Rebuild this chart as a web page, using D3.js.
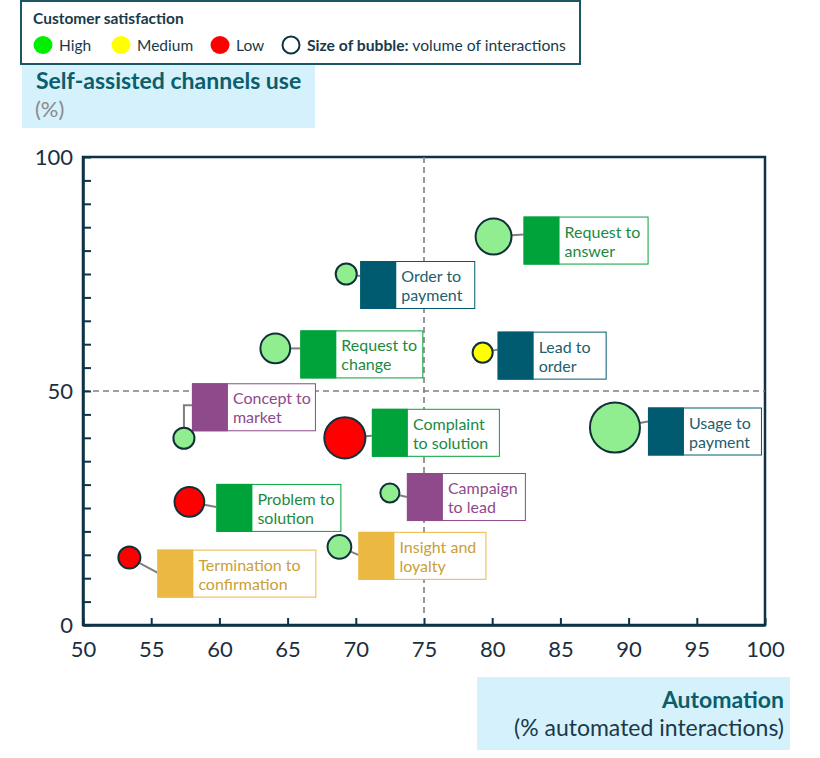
<!DOCTYPE html>
<html>
<head>
<meta charset="utf-8">
<script src="https://cdn.jsdelivr.net/npm/d3@7"></script>
<style>
  html, body { margin: 0; padding: 0; background: #ffffff; }
  svg { display: block; font-family: Lato, "Open Sans", sans-serif; }
</style>
</head>
<body>
<svg id="chart" width="820" height="758"></svg>
<script>
// ---------------- data ----------------
const processes = ["Request to answer", "Order to payment", "Request to change", "Lead to order",
  "Concept to market", "Complaint to solution", "Usage to payment", "Problem to solution",
  "Campaign to lead", "Insight and loyalty", "Termination to confirmation"];
const labelLines = [["Request to", "answer"], ["Order to", "payment"], ["Request to", "change"],
  ["Lead to", "order"], ["Concept to", "market"], ["Complaint", "to solution"], ["Usage to", "payment"],
  ["Problem to", "solution"], ["Campaign", "to lead"], ["Insight and", "loyalty"], ["Termination to", "confirmation"]];
const automation  = [80.1, 69.3, 64.1, 79.3, 57.4, 69.2, 89.0, 57.8, 72.5, 68.8, 53.4];
const selfService = [83.0, 75.0, 59.1, 58.2, 39.9, 40.0, 42.2, 26.3, 28.2, 16.7, 14.4];
const satisfaction = ["High", "High", "High", "Medium", "High", "Low", "High", "Low", "High", "High", "Low"];
const volume = [32, 11, 22, 10, 11, 42, 62, 22, 9, 14, 12];
const family = ["F1", "F2", "F1", "F2", "F3", "F1", "F2", "F1", "F3", "F4", "F4"];
const xTicks = [50, 55, 60, 65, 70, 75, 80, 85, 90, 95, 100];
const yTicks = [0, 5, 10, 15, 20, 25, 30, 35, 40, 45, 50, 55, 60, 65, 70, 75, 80, 85, 90, 95, 100];
const yLabelTicks = [0, 50, 100];
const legendItems = ["High", "Medium", "Low"];

// ---------------- styles / layout ----------------
const satFill = { High: "#90ee90", Medium: "#ffff00", Low: "#ff0000" };
const legendFill = { High: "#00ee00", Medium: "#ffff00", Low: "#ff0000" };
const famBlock = { F1: "#00a33a", F2: "#005b70", F3: "#8e4a8a", F4: "#ebb942" };
const famText  = { F1: "#1b8a3f", F2: "#22606f", F3: "#8e4a8a", F4: "#c9a03a" };
const dark = "#0f3344";
// label box offsets relative to bubble centre (px): dx, dy (box top-left), w (box width), ay (leader anchor from top), elbow
const labelLayout = [
  { dx: 30, dy: -20, w: 124, ay: 18 },
  { dx: 14, dy: -13, w: 114, ay: 15 },
  { dx: 25, dy: -18, w: 122, ay: 18 },
  { dx: 15, dy: -21, w: 108, ay: 18 },
  { dx: 8,  dy: -55, w: 123, ay: 22, elbow: true },
  { dx: 27, dy: -29, w: 127, ay: 27 },
  { dx: 33, dy: -20, w: 113, ay: 14 },
  { dx: 27, dy: -18, w: 124, ay: 23 },
  { dx: 17, dy: -20, w: 118, ay: 24 },
  { dx: 19, dy: -15, w: 127, ay: 23 },
  { dx: 28, dy: -8,  w: 158, ay: 23 }
];

const svg = d3.select("#chart");
const pL = 83, pR = 765, pT = 157, pB = 625;

const x = d3.scaleLinear().domain([50, 100]).range([pL, pR]);
const y = d3.scaleLinear().domain([0, 100]).range([pB, pT]);
const r = d3.scaleSqrt().domain([0, d3.max(volume)]).range([0, 25]);

// ---------------- legend ----------------
const lg = svg.append("g");
lg.append("rect").attr("x", 21).attr("y", 1).attr("width", 559).attr("height", 63)
  .attr("fill", "#fff").attr("stroke", "#1a5763").attr("stroke-width", 2);
lg.append("text").attr("x", 33).attr("y", 24).attr("font-size", 15.5).attr("font-weight", 700)
  .attr("fill", "#1a3a4a").text("Customer satisfaction");
const legX = [43, 121, 220];
legendItems.forEach((k, i) => {
  lg.append("ellipse").attr("cx", legX[i]).attr("cy", 45).attr("rx", 9.5).attr("ry", 9)
    .attr("fill", legendFill[k]);
  lg.append("text").attr("x", legX[i] + 16).attr("y", 51).attr("font-size", 15.5)
    .attr("fill", "#1a3a4a").text(k);
});
lg.append("circle").attr("cx", 291).attr("cy", 45).attr("r", 8.5)
  .attr("fill", "none").attr("stroke", dark).attr("stroke-width", 2);
const lt = lg.append("text").attr("x", 307).attr("y", 51).attr("font-size", 15.7).attr("fill", "#1a3a4a");
lt.append("tspan").attr("font-weight", 700).text("Size of bubble:");
lt.append("tspan").text(" volume of interactions");

// ---------------- axis titles ----------------
svg.append("rect").attr("x", 22).attr("y", 65).attr("width", 293).attr("height", 63).attr("fill", "#d5f1fb");
svg.append("text").attr("x", 36).attr("y", 89).attr("font-size", 23).attr("font-weight", 700)
  .attr("fill", "#0b5e6b").text("Self-assisted channels use");
svg.append("text").attr("x", 35).attr("y", 117).attr("font-size", 22)
  .attr("fill", "#8a8a8a").text("(%)");

svg.append("rect").attr("x", 477).attr("y", 677).attr("width", 313).attr("height", 73).attr("fill", "#d5f1fb");
svg.append("text").attr("x", 784).attr("y", 708).attr("text-anchor", "end").attr("font-size", 23)
  .attr("font-weight", 700).attr("fill", "#0b5e6b").text("Automation");
svg.append("text").attr("x", 784).attr("y", 736).attr("text-anchor", "end").attr("font-size", 23)
  .attr("fill", "#1a3a4a").text("(% automated interactions)");

// ---------------- plot frame & axes ----------------
svg.append("rect").attr("x", pL).attr("y", pT).attr("width", pR - pL).attr("height", pB - pT)
  .attr("fill", "none").attr("stroke", dark).attr("stroke-width", 2.5);

// reference lines
svg.append("line").attr("x1", x(75)).attr("x2", x(75)).attr("y1", y(100)).attr("y2", y(2))
  .attr("stroke", "#808080").attr("stroke-width", 1.6).attr("stroke-dasharray", "6,4");
svg.append("line").attr("x1", x(50)).attr("x2", x(100)).attr("y1", y(50)).attr("y2", y(50))
  .attr("stroke", "#808080").attr("stroke-width", 1.6).attr("stroke-dasharray", "6,4");

const xAxis = svg.append("g").attr("transform", `translate(0,${pB})`)
  .call(d3.axisBottom(x).tickValues(xTicks).tickSizeInner(-7).tickSizeOuter(0).tickPadding(16).tickFormat(d3.format("d")));
const yAxis = svg.append("g").attr("transform", `translate(${pL},0)`)
  .call(d3.axisLeft(y).tickValues(yTicks).tickSizeInner(-8).tickSizeOuter(0).tickPadding(10)
    .tickFormat(d => yLabelTicks.includes(d) ? d : ""));
[xAxis, yAxis].forEach(a => {
  a.select(".domain").attr("stroke", dark).attr("stroke-width", 2.5);
  a.selectAll(".tick line").attr("stroke", dark).attr("stroke-width", 2);
  a.selectAll(".tick text").attr("fill", "#1a3040").attr("font-size", 22)
    .attr("font-family", "Lato, 'Open Sans', sans-serif");
});

// ---------------- labels and bubbles ----------------
const data = processes.map((p, i) => ({
  name: p, lines: labelLines[i], ax: automation[i], sv: selfService[i],
  sat: satisfaction[i], vol: volume[i], fam: family[i], lay: labelLayout[i]
}));

const lab = svg.append("g");
data.forEach(d => {
  const cx = x(d.ax), cy = y(d.sv), L = d.lay;
  const bx = cx + L.dx, by = cy + L.dy, h = 47;
  const ay = by + L.ay;
  const path = L.elbow ? `M${cx},${cy}V${ay}H${bx}` : `M${cx},${cy}L${bx},${ay}`;
  lab.append("path").attr("d", path).attr("fill", "none").attr("stroke", "#7f7f7f").attr("stroke-width", 2);
  lab.append("rect").attr("x", bx + 0.5).attr("y", by + 0.5).attr("width", L.w).attr("height", h)
    .attr("fill", "#fff").attr("stroke", famBlock[d.fam]).attr("stroke-width", 1);
  lab.append("rect").attr("x", bx).attr("y", by).attr("width", 36).attr("height", h + 1)
    .attr("fill", famBlock[d.fam]);
  const t = lab.append("text").attr("font-size", 16).attr("fill", famText[d.fam]);
  d.lines.forEach((ln, j) => {
    t.append("tspan").attr("x", bx + 41).attr("y", by + 21 + j * 19).text(ln);
  });
});

svg.append("g").selectAll("circle").data(data).join("circle")
  .attr("cx", d => x(d.ax)).attr("cy", d => y(d.sv)).attr("r", d => r(d.vol))
  .attr("fill", d => satFill[d.sat]).attr("stroke", "#12303a").attr("stroke-width", 2);
</script>
</body>
</html>
